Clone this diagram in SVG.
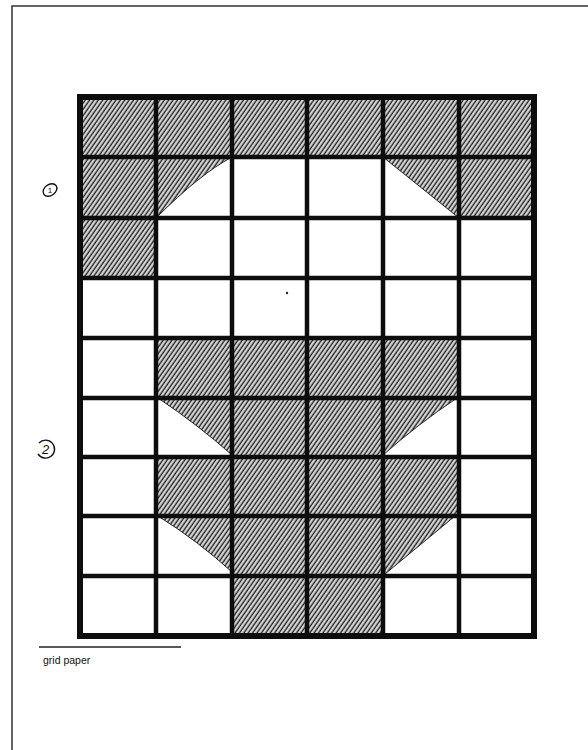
<svg xmlns="http://www.w3.org/2000/svg" width="588" height="750" viewBox="0 0 588 750">
  <defs>
    <pattern id="hatch" patternUnits="userSpaceOnUse" width="3.6" height="12" patternTransform="rotate(35)">
      <rect width="3.6" height="12" fill="#dcdcdc"/>
      <line x1="1.2" y1="0" x2="1.2" y2="12" stroke="#1e1e1e" stroke-width="1.4"/>
    </pattern>
    <style>
      .sh { fill: url(#hatch); stroke: #222; stroke-width: 1; }
      .grid { fill: none; stroke: #0d0d0d; stroke-width: 4.5; stroke-linecap: square; }
      .outer { fill: none; stroke: #0d0d0d; stroke-width: 6; }
      .lbl { font-family: "Liberation Sans", Arial, sans-serif; fill: #111; }
      .circ { fill: none; stroke: #111; stroke-width: 1.4; }
    </style>
  </defs>

  <rect width="588" height="750" fill="#ffffff"/>

  <!-- page border (left and top) -->
  <g id="page-border" fill="none" stroke="#333" stroke-width="1.5">
    <path d="M12,750 L12,6 L588,6"/>
  </g>

  <!-- shaded cells -->
  <g id="row1-shading">
    <rect class="sh" x="80" y="97" width="76" height="60"/>
    <rect class="sh" x="156" y="97" width="76" height="60"/>
    <rect class="sh" x="232" y="97" width="75" height="60"/>
    <rect class="sh" x="307" y="97" width="76" height="60"/>
    <rect class="sh" x="383" y="97" width="76" height="60"/>
    <rect class="sh" x="459" y="97" width="75" height="60"/>
  </g>
  <g id="row2-shading">
    <rect class="sh" x="80" y="157" width="76" height="61"/>
    <path class="sh" d="M156,157 L232,157 Q200,174 156,218 Z"/>
    <path class="sh" d="M383,157 L459,157 L459,218 Z"/>
    <rect class="sh" x="459" y="157" width="75" height="61"/>
  </g>
  <g id="row3-shading">
    <rect class="sh" x="80" y="218" width="76" height="60"/>
  </g>
  <g id="row5-shading">
    <rect class="sh" x="156" y="338" width="76" height="60"/>
    <rect class="sh" x="232" y="338" width="75" height="60"/>
    <rect class="sh" x="307" y="338" width="76" height="60"/>
    <rect class="sh" x="383" y="338" width="76" height="60"/>
  </g>
  <g id="row6-shading">
    <path class="sh" d="M158,398 L232,398 L232,455 Q197,424 158,398 Z"/>
    <rect class="sh" x="232" y="398" width="75" height="59"/>
    <rect class="sh" x="307" y="398" width="76" height="59"/>
    <path class="sh" d="M383,398 L457,398 Q418,424 383,455 Z"/>
  </g>
  <g id="row7-shading">
    <rect class="sh" x="156" y="457" width="76" height="59"/>
    <rect class="sh" x="232" y="457" width="75" height="59"/>
    <rect class="sh" x="307" y="457" width="76" height="59"/>
    <rect class="sh" x="383" y="457" width="76" height="59"/>
  </g>
  <g id="row8-shading">
    <path class="sh" d="M158,516 L232,516 L232,572 Q198,541 158,516 Z"/>
    <rect class="sh" x="232" y="516" width="75" height="60"/>
    <rect class="sh" x="307" y="516" width="76" height="60"/>
    <path class="sh" d="M383,516 L455,516 L385,574 Z"/>
  </g>
  <g id="row9-shading">
    <rect class="sh" x="232" y="576" width="75" height="60"/>
    <rect class="sh" x="307" y="576" width="76" height="60"/>
  </g>

  <!-- grid lines -->
  <g id="grid">
    <path class="grid" d="M156,97 V636 M232,97 V636 M307,97 V636 M383,97 V636 M459,97 V636"/>
    <path class="grid" d="M80,157 H534 M80,218 H534 M80,278 H534 M80,338 H534 M80,398 H534 M80,457 H534 M80,516 H534 M80,576 H534"/>
    <rect class="outer" x="80" y="97" width="454" height="539"/>
    <circle cx="287" cy="293" r="1.2" fill="#222"/>
  </g>

  <!-- labels -->
  <g id="label-1">
    <ellipse class="circ" cx="50" cy="190" rx="7.5" ry="5.5" transform="rotate(-35 50 190)"/>
    <text class="lbl" x="50" y="193" font-size="8" text-anchor="middle">1</text>
  </g>
  <g id="label-2">
    <path class="circ" d="M39,443 A9,9 0 1 1 38,454"/>
    <text class="lbl" x="45.5" y="454" font-size="13" font-style="italic" text-anchor="middle">2</text>
  </g>
  <g id="caption">
    <line x1="39" y1="647" x2="181" y2="647" stroke="#222" stroke-width="1.5"/>
    <text class="lbl" x="43" y="664" font-size="10.5" fill="#222">grid paper</text>
  </g>
</svg>
